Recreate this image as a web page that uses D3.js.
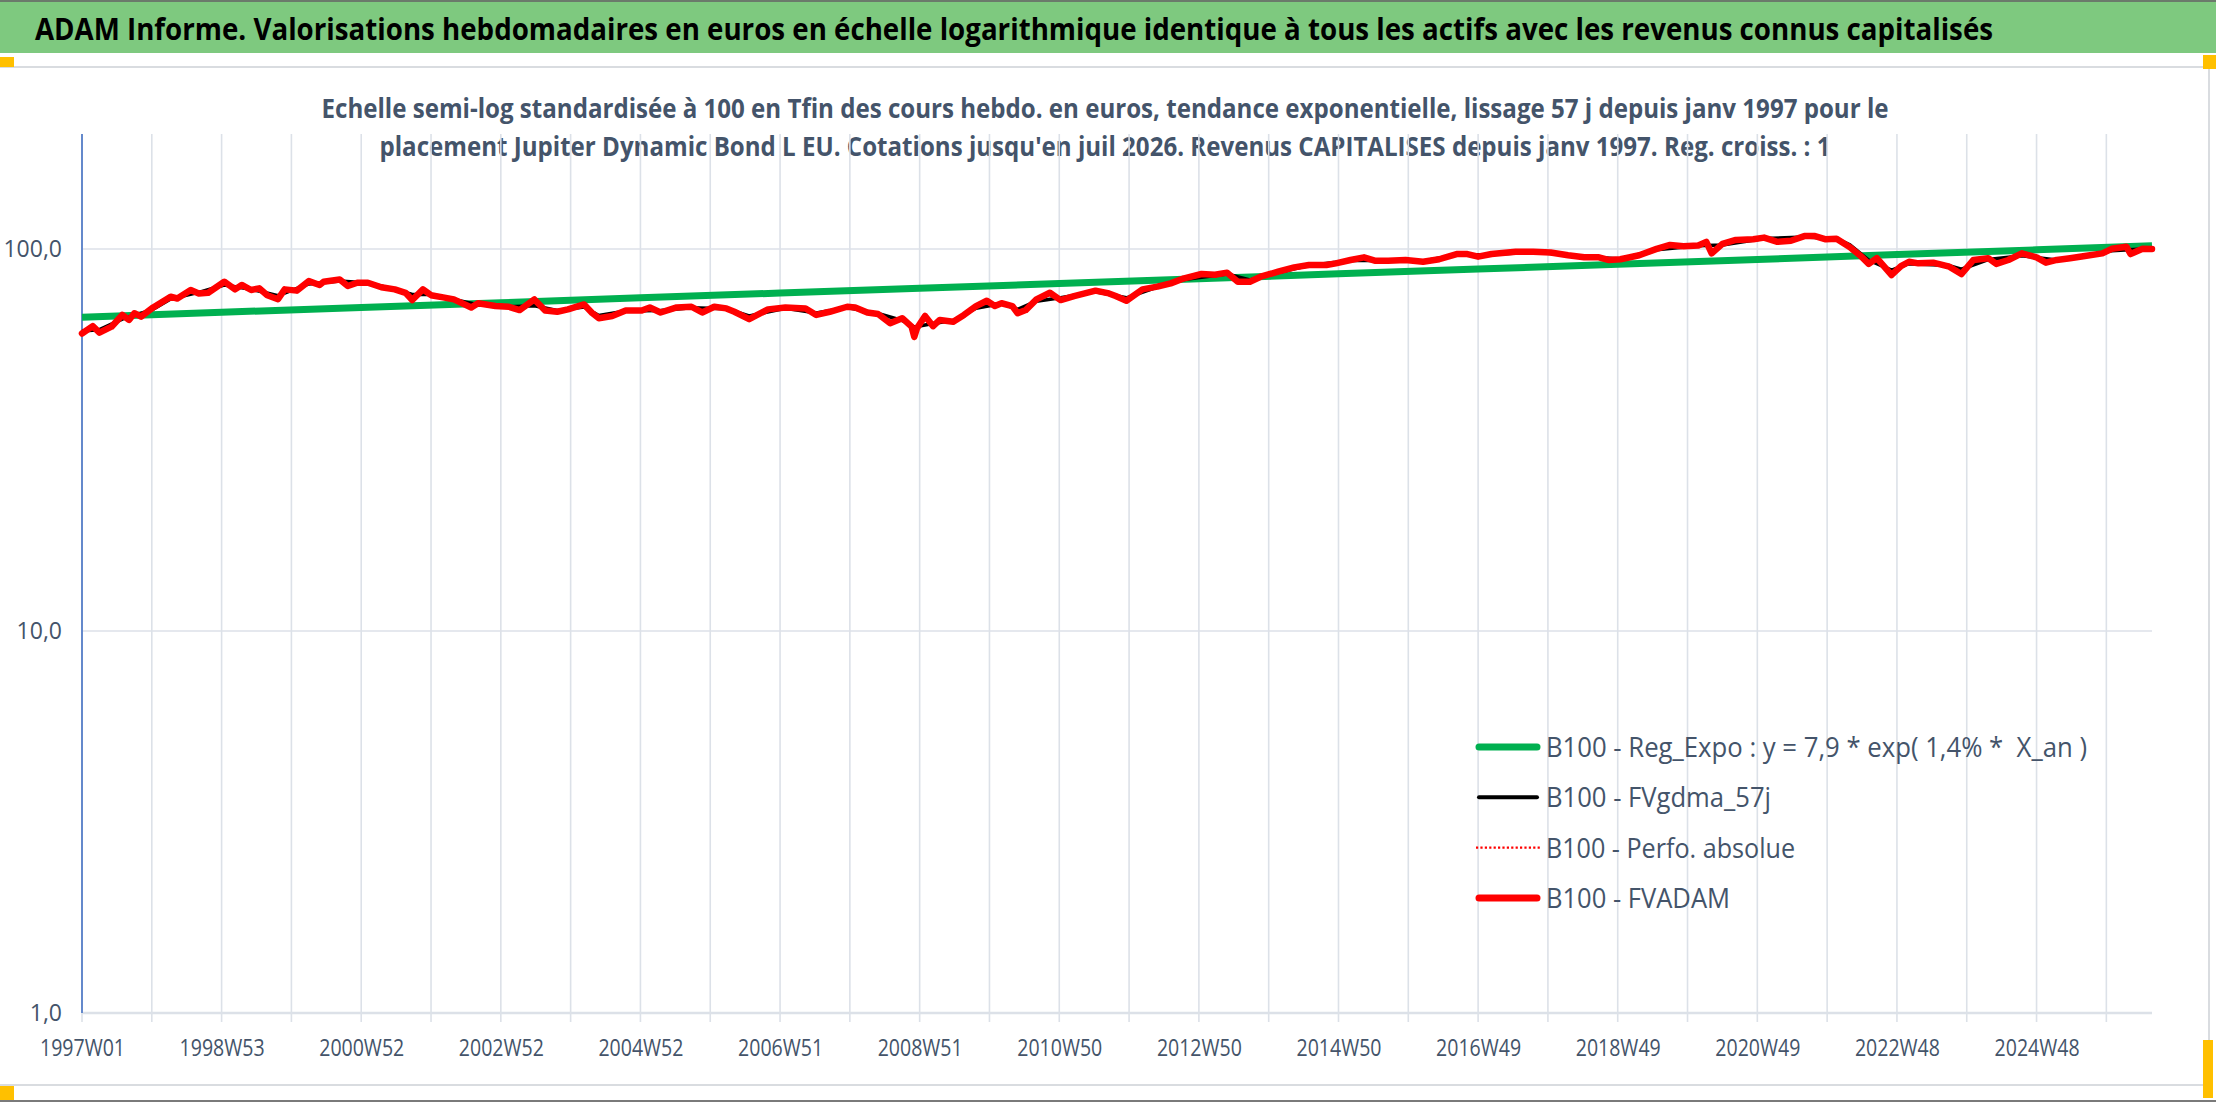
<!DOCTYPE html>
<html>
<head>
<meta charset="utf-8">
<script src="https://cdn.jsdelivr.net/npm/d3@7"></script>
<style>
  body { margin: 0; background: #fff; }
  text { font-family: "Open Sans", "Noto Sans", sans-serif; }
</style>
</head>
<body>
<div id="chart"></div>
<script>
// Weekly categories: index 0 = 1997W01 ... 1542 = last quote (juil 2026)
const LAST_WEEK = 1542;

// category labels shown on the x axis (one every 104 weeks)
const labelWeeks = [0, 104, 208, 312, 416, 520, 624, 728, 832, 936, 1040, 1144, 1248, 1352, 1456];
const weekLabels = ['1997W01', '1998W53', '2000W52', '2002W52', '2004W52', '2006W51', '2008W51',
  '2010W50', '2012W50', '2014W50', '2016W49', '2018W49', '2020W49', '2022W48', '2024W48'];

const yTicks = [1, 10, 100];

// B100 - Reg_Expo (read at each labelled week + last week)
const regWeeks  = [0, 104, 208, 312, 416, 520, 624, 728, 832, 936, 1040, 1144, 1248, 1352, 1456, 1542];
const regValues = [66.3, 68.3, 70.3, 72.3, 74.5, 76.7, 78.9, 81.2, 83.6, 86.1, 88.6, 91.2, 93.9, 96.7, 99.5, 102.0];

// B100 - FVgdma_57j (smoothed, mostly hidden under the red line)
const gdmaWeeks = [0, 13, 30, 53, 66, 87, 106, 126, 146, 169, 192, 213, 233, 246, 260, 277, 295, 318, 337,
  354, 374, 385, 405, 431, 454, 480, 497, 524, 547, 570, 593, 611, 620, 634, 649, 666, 685, 697, 711, 729,
  755, 778, 801, 821, 853, 870, 891, 914, 945, 973, 999, 1024, 1050, 1081, 1107, 1130, 1146, 1173, 1204,
  1222, 1253, 1283, 1307, 1317, 1331, 1348, 1361, 1391, 1400, 1420, 1445, 1471, 1492, 1512, 1535, 1542];
const gdmaValues = [61.0, 61.5, 65.5, 69.5, 74.0, 77.0, 80.5, 78.5, 75.5, 81.0, 82.5, 81.5, 78.5, 76.0, 76.0,
  73.8, 71.5, 70.6, 71.0, 69.0, 70.5, 67.0, 68.8, 69.0, 70.2, 69.8, 66.8, 70.0, 68.0, 70.3, 67.8, 65.0, 62.5,
  63.8, 65.0, 70.0, 72.0, 69.5, 73.0, 74.5, 77.3, 74.5, 79.5, 83.2, 86.0, 83.0, 86.8, 90.5, 93.3, 93.4, 93.0,
  96.5, 96.8, 98.2, 96.5, 95.0, 94.2, 99.5, 102.0, 102.5, 106.5, 107.5, 106.5, 102.5, 93.5, 88.0, 91.5, 90.5,
  88.5, 93.8, 96.0, 93.6, 95.8, 99.0, 100.0, 100.0];

// B100 - FVADAM (also used for B100 - Perfo. absolue, which lies exactly below it)
const adamWeeks = [0, 8, 13, 22, 30, 35, 39, 44, 53, 66, 71, 81, 87, 94, 106, 114, 119, 126, 132, 138, 146,
  151, 160, 169, 177, 180, 192, 198, 205, 213, 223, 233, 241, 246, 254, 260, 269, 277, 290, 295, 308, 318,
  326, 337, 345, 354, 362, 374, 380, 385, 395, 405, 417, 423, 431, 443, 454, 462, 471, 480, 486, 497, 511,
  524, 539, 547, 557, 570, 576, 585, 593, 602, 611, 618, 620, 622, 628, 634, 639, 649, 657, 666, 674, 680,
  685, 693, 697, 703, 711, 721, 729, 739, 755, 765, 770, 778, 790, 801, 811, 821, 834, 844, 853, 861, 870,
  878, 891, 903, 914, 927, 934, 945, 955, 963, 973, 986, 999, 1011, 1024, 1032, 1040, 1050, 1068, 1081,
  1094, 1107, 1119, 1130, 1137, 1146, 1160, 1173, 1183, 1193, 1204, 1210, 1214, 1222, 1232, 1245, 1253,
  1263, 1273, 1283, 1291, 1299, 1307, 1317, 1325, 1331, 1337, 1348, 1355, 1361, 1368, 1379, 1391, 1400,
  1409, 1420, 1426, 1435, 1445, 1456, 1463, 1471, 1481, 1492, 1505, 1512, 1523, 1526, 1535, 1542];
const adamValues = [60.1, 62.8, 60.4, 62.6, 67.2, 65.2, 67.9, 66.5, 70.3, 75.0, 74.2, 78.1, 76.5, 76.8, 82.1,
  78.4, 80.5, 78.1, 78.9, 75.7, 73.9, 78.4, 77.8, 82.4, 80.5, 82.1, 83.2, 80.0, 81.6, 81.6, 79.4, 78.4, 76.8,
  73.5, 78.4, 75.7, 74.7, 73.8, 70.3, 72.1, 70.9, 70.6, 69.2, 73.8, 69.0, 68.5, 69.5, 71.6, 68.0, 65.9, 66.8,
  69.0, 69.0, 70.3, 68.2, 70.3, 70.6, 68.2, 70.6, 69.9, 68.5, 65.5, 69.5, 70.3, 69.9, 67.2, 68.5, 70.6, 70.3,
  68.2, 67.6, 63.9, 65.9, 62.6, 58.9, 62.0, 66.8, 62.8, 65.2, 64.5, 67.2, 70.9, 73.2, 70.9, 72.1, 70.9, 67.9,
  69.2, 73.8, 76.8, 73.5, 75.3, 77.8, 76.5, 75.3, 73.2, 78.4, 79.7, 81.3, 83.8, 86.0, 85.6, 86.7, 82.1, 82.1,
  84.6, 87.2, 89.5, 90.8, 90.8, 91.7, 93.6, 95.1, 93.2, 93.2, 93.6, 92.6, 94.0, 97.0, 97.0, 95.5, 97.0, 98.3,
  98.3, 97.9, 96.3, 95.1, 95.1, 93.6, 94.0, 96.3, 100.1, 102.5, 101.7, 102.1, 104.4, 97.4, 103.1, 105.6,
  106.0, 107.1, 104.4, 105.1, 108.1, 108.1, 106.0, 106.4, 101.1, 95.9, 91.4, 94.6, 85.5, 90.2, 92.6, 91.7,
  92.1, 89.9, 86.0, 93.6, 94.6, 91.4, 93.6, 97.4, 95.1, 92.1, 93.6, 94.6, 95.9, 97.4, 100.1, 101.4, 97.0,
  100.1, 100.0];

const legendLabels = [
  'B100 - Reg_Expo : y = 7,9 * exp( 1,4% *  X_an )',
  'B100 - FVgdma_57j',
  'B100 - Perfo. absolue',
  'B100 - FVADAM'
];

const TITLE = 'ADAM Informe. Valorisations hebdomadaires en euros en échelle logarithmique identique à tous les actifs avec les revenus connus capitalisés';
const SUB1 = 'Echelle semi-log standardisée à 100 en Tfin des cours hebdo. en euros, tendance exponentielle, lissage 57 j depuis janv 1997 pour le';
const SUB2 = "placement Jupiter Dynamic Bond L EU. Cotations jusqu'en juil 2026. Revenus CAPITALISES depuis janv 1997. Reg. croiss. : 1";

const TEXT = '#44546A';
const GRID = '#DCE1E8';

const W = 2216, H = 1102;
const plot = { left: 82, right: 2152, top: 134, bottom: 1013 };

const svg = d3.select('#chart').append('svg')
  .attr('width', W).attr('height', H)
  .style('display', 'block');

svg.append('rect').attr('width', W).attr('height', H).attr('fill', '#fff');

// ---- frame: green title band + chart area borders
svg.append('rect').attr('x', 0).attr('y', 0).attr('width', W).attr('height', 53).attr('fill', '#7EC97F');
svg.append('rect').attr('x', 0).attr('y', 0).attr('width', W).attr('height', 2).attr('fill', '#6B7A6B');
svg.append('line').attr('x1', 0).attr('x2', 2210).attr('y1', 67).attr('y2', 67)
  .attr('stroke', '#D9DCE0').attr('stroke-width', 2);
svg.append('line').attr('x1', 0).attr('x2', 2210).attr('y1', 1085).attr('y2', 1085)
  .attr('stroke', '#D9DCE0').attr('stroke-width', 2);
svg.append('line').attr('x1', 2209).attr('x2', 2209).attr('y1', 67).attr('y2', 1085)
  .attr('stroke', '#D9DCE0').attr('stroke-width', 2);
svg.append('rect').attr('x', 0).attr('y', 1100).attr('width', W).attr('height', 2).attr('fill', '#7A7A7A');

// selection handles
const handles = [[0, 57, 14, 10], [2203, 55, 13, 14], [0, 1086, 14, 14], [2203, 1040, 10, 58]];
svg.selectAll('.handle').data(handles).join('rect')
  .attr('class', 'handle')
  .attr('x', d => d[0]).attr('y', d => d[1]).attr('width', d => d[2]).attr('height', d => d[3])
  .attr('fill', '#FFC000');

svg.append('text')
  .attr('x', 35).attr('y', 40)
  .attr('font-size', 30).attr('font-weight', 700).attr('fill', '#000')
  .attr('textLength', 1958).attr('lengthAdjust', 'spacingAndGlyphs')
  .text(TITLE);

svg.append('text')
  .attr('x', 1105).attr('y', 118).attr('text-anchor', 'middle')
  .attr('font-size', 26).attr('font-weight', 700).attr('fill', TEXT)
  .attr('textLength', 1567).attr('lengthAdjust', 'spacingAndGlyphs')
  .text(SUB1);
svg.append('text')
  .attr('x', 1105).attr('y', 156).attr('text-anchor', 'middle')
  .attr('font-size', 26).attr('font-weight', 700).attr('fill', TEXT)
  .attr('textLength', 1451).attr('lengthAdjust', 'spacingAndGlyphs')
  .text(SUB2);

// ---- scales
const x = d3.scaleLinear().domain([0, LAST_WEEK]).range([plot.left, plot.right]);
const y = d3.scaleLog().domain([1, 200]).range([plot.bottom, plot.top]);

const fr = d3.formatLocale({ decimal: ',', thousands: ' ', grouping: [3], currency: ['', ' €'] });
const fmt1 = fr.format('.1f');

// ---- grid
const gridWeeks = d3.range(0, LAST_WEEK + 1, 52);
svg.append('g').selectAll('line').data(gridWeeks).join('line')
  .attr('x1', d => x(d)).attr('x2', d => x(d))
  .attr('y1', plot.top).attr('y2', plot.bottom + 9)
  .attr('stroke', GRID).attr('stroke-width', 1.6);

svg.append('g').selectAll('line').data(yTicks).join('line')
  .attr('x1', plot.left).attr('x2', plot.right)
  .attr('y1', d => y(d)).attr('y2', d => y(d))
  .attr('stroke', GRID).attr('stroke-width', d => d === 1 ? 2.4 : 1.6);

// left axis line
svg.append('line')
  .attr('x1', plot.left).attr('x2', plot.left)
  .attr('y1', plot.top).attr('y2', plot.bottom)
  .attr('stroke', '#4472C4').attr('stroke-width', 1.6);

// y labels
svg.append('g')
  .attr('transform', `translate(${plot.left},0)`)
  .call(d3.axisLeft(y).tickValues(yTicks).tickFormat(fmt1).tickSize(0).tickPadding(20))
  .call(g => g.select('.domain').remove())
  .call(g => g.selectAll('text')
    .attr('font-family', '"Open Sans", "Noto Sans", sans-serif')
    .attr('font-size', 23).attr('fill', TEXT));

// x labels
svg.append('g')
  .attr('transform', `translate(0,${plot.bottom})`)
  .call(d3.axisBottom(x).tickValues(labelWeeks).tickFormat((d, i) => weekLabels[i]).tickSize(0).tickPadding(26))
  .call(g => g.select('.domain').remove())
  .call(g => g.selectAll('text')
    .attr('font-family', '"Open Sans", "Noto Sans", sans-serif')
    .attr('font-size', 24).attr('fill', TEXT)
    .attr('textLength', 85).attr('lengthAdjust', 'spacingAndGlyphs'));

// ---- series
const toPts = (ws, vs) => ws.map((w, i) => [w, vs[i]]);
const line = d3.line().x(d => x(d[0])).y(d => y(d[1]));

const plotG = svg.append('g');

plotG.append('path')
  .datum(toPts(regWeeks, regValues))
  .attr('d', line).attr('fill', 'none')
  .attr('stroke', '#00B050').attr('stroke-width', 7);

plotG.append('path')
  .datum(toPts(gdmaWeeks, gdmaValues))
  .attr('d', line).attr('fill', 'none')
  .attr('stroke', '#000').attr('stroke-width', 3.5).attr('stroke-linejoin', 'round');

plotG.append('path')
  .datum(toPts(adamWeeks, adamValues))
  .attr('d', line).attr('fill', 'none')
  .attr('stroke', '#FF0000').attr('stroke-width', 2).attr('stroke-dasharray', '2,2');

plotG.append('path')
  .datum(toPts(adamWeeks, adamValues))
  .attr('d', line).attr('fill', 'none')
  .attr('stroke', '#FF0000').attr('stroke-width', 6.5)
  .attr('stroke-linejoin', 'round').attr('stroke-linecap', 'round');

// ---- legend
const legendStyles = [
  { color: '#00B050', width: 7, dash: null, cap: 'round' },
  { color: '#000', width: 4, dash: null, cap: 'round' },
  { color: '#FF0000', width: 2.2, dash: '2.2,2.2', cap: 'butt' },
  { color: '#FF0000', width: 7, dash: null, cap: 'round' }
];
const legendWidths = [541, 225, 249, 184];
const leg = svg.append('g').attr('transform', 'translate(1476,747)');
const items = leg.selectAll('g').data(legendLabels).join('g')
  .attr('transform', (d, i) => `translate(0,${i * 50.3})`);
items.append('line')
  .attr('x1', (d, i) => legendStyles[i].cap === 'round' ? 3 : 0)
  .attr('x2', (d, i) => legendStyles[i].cap === 'round' ? 61 : 64)
  .attr('stroke', (d, i) => legendStyles[i].color)
  .attr('stroke-width', (d, i) => legendStyles[i].width)
  .attr('stroke-dasharray', (d, i) => legendStyles[i].dash)
  .attr('stroke-linecap', (d, i) => legendStyles[i].cap);
items.append('text')
  .attr('x', 70).attr('y', 10)
  .attr('font-size', 28).attr('fill', TEXT)
  .attr('xml:space', 'preserve').style('white-space', 'pre')
  .attr('textLength', (d, i) => legendWidths[i]).attr('lengthAdjust', 'spacingAndGlyphs')
  .text(d => d);
</script>
</body>
</html>
